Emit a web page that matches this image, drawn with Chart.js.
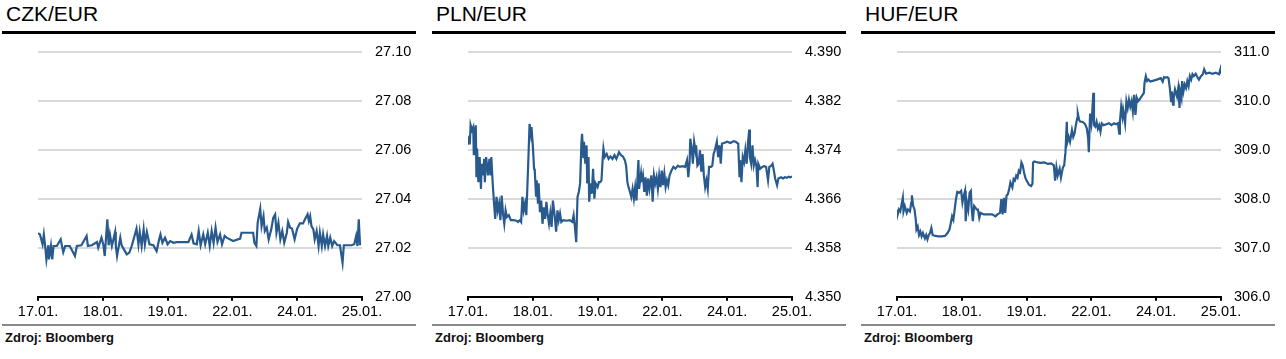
<!DOCTYPE html>
<html>
<head>
<meta charset="utf-8">
<script src="https://cdn.jsdelivr.net/npm/chart.js@4.4.1/dist/chart.umd.min.js"></script>
<style>
  html, body { margin:0; padding:0; background:#fff; }
  body { width:1286px; height:359px; position:relative; overflow:hidden; font-family:"Liberation Sans", Arial, sans-serif; }
  .panel { position:absolute; top:0; width:420px; height:359px; }
  .title { position:absolute; left:6px; top:4px; font-size:21px; line-height:20px; color:#000; white-space:nowrap; }
  .topline { position:absolute; left:1.5px; top:31px; width:414px; height:3px; background:#000; }
  .bottomline { position:absolute; left:1.5px; top:323.5px; width:414px; height:2px; background:#888; }
  .src { position:absolute; left:5px; top:330.5px; font-size:13px; line-height:13px; font-weight:bold; color:#111; white-space:nowrap; }
  canvas { position:absolute; left:0; top:30px; }
</style>
</head>
<body>
<script>
// ---- Data ----
const dayLabels = ['17.01.', '18.01.', '19.01.', '22.01.', '24.01.', '25.01.'];
const dayTicks = [0, 1, 2, 3, 4, 5];

const titles = ['CZK/EUR', 'PLN/EUR', 'HUF/EUR'];

const czkTicks = [27.00, 27.02, 27.04, 27.06, 27.08, 27.10];
const plnTicks = [4.350, 4.358, 4.366, 4.374, 4.382, 4.390];
const hufTicks = [306.0, 307.0, 308.0, 309.0, 310.0, 311.0];

const czkT = [0.00,0.03,0.07,0.09,0.11,0.13,0.16,0.17,0.20,0.22,0.24,0.29,0.35,0.37,0.39,0.42,0.49,0.57,0.60,0.67,0.75,0.77,0.83,0.91,0.93,0.98,1.01,1.03,1.07,1.09,1.11,1.14,1.19,1.20,1.22,1.27,1.29,1.37,1.41,1.45,1.52,1.55,1.57,1.60,1.63,1.65,1.68,1.72,1.78,1.83,1.87,1.89,1.92,1.96,2.00,2.04,2.09,2.14,2.24,2.32,2.37,2.40,
  2.45,2.48,2.51,2.55,2.58,2.62,2.65,2.68,2.71,2.74,2.77,2.81,2.84,2.88,2.91,2.94,3.01,3.12,3.14,3.32,3.34,3.37,3.39,3.43,3.45,3.48,3.50,3.53,3.56,3.60,3.63,3.66,3.68,3.71,3.74,3.77,3.80,3.84,3.86,3.89,3.92,3.96,4.00,4.04,4.09,4.12,4.16,4.18,4.20,4.22,4.25,4.27,4.30,4.33,4.35,4.38,4.40,4.43,4.46,4.48,4.51,4.54,4.57,4.62,4.66,4.70,4.72,4.84,4.88,4.91,4.93,4.95,4.97];
const czkV = [27.0259,27.0254,27.0214,27.0254,27.0207,27.0152,27.0210,27.0152,27.0207,27.0152,27.0207,27.0207,27.0234,27.0207,27.0182,27.0207,27.0207,27.0166,27.0207,27.0210,27.0248,27.0207,27.0210,27.0223,27.0200,27.0241,27.0210,27.0166,27.0316,27.0210,27.0254,27.0207,27.0264,27.0210,27.0166,27.0241,27.0210,27.0173,27.0180,27.0210,27.0278,27.0214,27.0264,27.0207,27.0275,27.0214,27.0264,27.0214,27.0210,27.0186,27.0234,27.0254,27.0220,27.0241,27.0214,27.0227,27.0220,27.0223,27.0223,27.0223,27.0254,27.0218,
  27.0214,27.0268,27.0210,27.0254,27.0214,27.0261,27.0207,27.0268,27.0220,27.0282,27.0223,27.0254,27.0214,27.0248,27.0241,27.0237,27.0227,27.0237,27.0261,27.0261,27.0220,27.0207,27.0302,27.0359,27.0288,27.0329,27.0268,27.0282,27.0234,27.0275,27.0322,27.0336,27.0261,27.0302,27.0234,27.0268,27.0220,27.0261,27.0305,27.0282,27.0278,27.0234,27.0278,27.0299,27.0299,27.0316,27.0336,27.0309,27.0329,27.0288,27.0275,27.0234,27.0268,27.0207,27.0261,27.0207,27.0254,27.0207,27.0248,27.0207,27.0241,27.0207,27.0227,27.0210,27.0210,27.0139,27.0210,27.0210,27.0214,27.0248,27.0207,27.0316,27.0210];

const plnT = [0.00,0.01,0.03,0.04,0.06,0.08,0.09,0.11,0.12,0.13,0.14,0.16,0.18,0.20,0.21,0.23,0.25,0.26,0.28,0.31,0.33,0.35,0.36,0.38,0.40,0.42,0.44,0.46,0.48,0.50,0.52,0.54,0.56,0.58,0.60,0.63,0.66,0.70,0.75,0.77,0.80,0.82,0.84,0.86,0.88,0.90,0.92,0.94,0.95,0.97,0.98,1.00,1.02,1.03,1.05,1.06,1.08,1.09,1.11,1.13,1.15,1.17,1.19,1.21,1.23,1.25,1.27,1.29,1.31,1.34,1.36,1.38,1.40,1.42,1.44,1.47,1.52,1.57,1.61,1.63,1.65,1.67,1.69,1.71,1.73,1.75,1.76,1.78,1.79,1.81,1.83,1.84,1.86,1.87,1.89,1.91,1.93,1.95,1.97,2.00,2.02,2.04,2.06,2.08,2.09,2.11,2.14,2.17,2.20,2.23,2.26,2.29,2.33,2.36,2.39,2.42,2.44,2.46,
  2.47,2.50,2.52,2.54,2.56,2.58,2.60,2.62,2.63,2.64,2.67,2.68,2.70,2.72,2.74,2.76,2.78,2.80,2.83,2.85,2.87,2.89,2.91,2.93,2.95,2.97,2.99,3.01,3.03,3.05,3.07,3.09,3.11,3.14,3.17,3.20,3.24,3.27,3.31,3.35,3.38,3.40,3.42,3.43,3.45,3.47,3.49,3.51,3.52,3.54,3.56,3.58,3.60,3.62,3.64,3.66,3.68,3.70,3.72,3.75,3.77,3.79,3.81,3.84,3.86,3.88,3.90,3.92,3.95,4.00,4.05,4.10,4.13,4.17,4.19,4.20,4.22,4.24,4.26,4.28,4.30,4.32,4.34,4.35,4.37,4.39,4.41,4.43,4.45,4.47,4.48,4.51,4.54,4.57,4.60,4.63,4.65,4.68,4.70,4.72,4.74,4.77,4.79,4.83,4.86,4.89,4.92,4.95,4.97,5.00];
const plnV = [4.3750,4.3758,4.3754,4.3780,4.3772,4.3777,4.3731,4.3772,4.3780,4.3695,4.3742,4.3687,4.3728,4.3676,4.3717,4.3698,4.3725,4.3687,4.3728,4.3698,4.3725,4.3698,4.3728,4.3687,4.3655,4.3627,4.3663,4.3641,4.3652,4.3625,4.3665,4.3636,4.3619,4.3641,4.3630,4.3633,4.3625,4.3625,4.3624,4.3622,4.3625,4.3622,4.3663,4.3641,4.3652,4.3633,4.3690,4.3750,4.3782,4.3766,4.3777,4.3747,4.3709,4.3706,4.3665,4.3690,4.3652,4.3685,4.3638,4.3657,4.3619,4.3646,4.3627,4.3655,4.3633,4.3619,4.3636,4.3614,4.3657,4.3630,4.3606,4.3641,4.3625,4.3636,4.3622,4.3625,4.3624,4.3625,4.3622,4.3633,4.3614,4.3589,4.3663,4.3671,4.3685,4.3750,4.3766,4.3728,4.3753,4.3717,4.3747,4.3685,4.3728,4.3655,4.3685,4.3668,4.3709,4.3660,4.3685,4.3679,4.3687,4.3687,4.3690,4.3728,4.3742,4.3728,4.3733,4.3725,4.3729,4.3725,4.3731,4.3725,4.3736,4.3731,4.3729,4.3723,4.3714,4.3687,
  4.3682,4.3671,4.3663,4.3676,4.3660,4.3679,4.3657,4.3704,4.3723,4.3676,4.3701,4.3687,4.3698,4.3671,4.3695,4.3665,4.3693,4.3676,4.3698,4.3655,4.3698,4.3685,4.3695,4.3676,4.3698,4.3679,4.3706,4.3682,4.3701,4.3679,4.3690,4.3682,4.3698,4.3706,4.3712,4.3709,4.3714,4.3712,4.3713,4.3712,4.3723,4.3695,4.3720,4.3758,4.3744,4.3717,4.3753,4.3739,4.3747,4.3714,4.3717,4.3739,4.3704,4.3733,4.3698,4.3679,4.3690,4.3676,4.3712,4.3712,4.3714,4.3733,4.3739,4.3753,4.3728,4.3747,4.3717,4.3750,4.3751,4.3753,4.3751,4.3754,4.3753,4.3750,4.3695,4.3723,4.3687,4.3728,4.3720,4.3739,4.3717,4.3750,4.3773,4.3728,4.3717,4.3747,4.3714,4.3723,4.3714,4.3679,4.3717,4.3709,4.3712,4.3713,4.3712,4.3690,4.3712,4.3714,4.3717,4.3706,4.3693,4.3682,4.3693,4.3695,4.3693,4.3695,4.3694,4.3696,4.3695,4.3696];

const hufT = [0.00,0.01,0.03,0.05,0.07,0.09,0.10,0.12,0.15,0.17,0.20,0.22,0.23,0.25,0.27,0.29,0.30,0.32,0.34,0.36,0.38,0.40,0.43,0.45,0.47,0.49,0.51,0.53,0.55,0.59,0.64,0.69,0.74,0.78,0.81,0.83,0.85,0.87,0.89,0.91,0.93,0.96,0.99,1.01,1.03,1.05,1.06,1.08,1.10,1.12,1.14,1.15,1.17,1.19,1.23,1.25,1.27,1.29,1.34,1.42,1.47,1.52,1.55,1.59,1.61,1.63,1.65,1.67,1.69,1.71,1.73,1.75,1.78,1.80,1.82,1.84,1.86,1.88,1.90,1.92,1.94,1.96,1.98,2.00,2.04,2.07,2.09,2.10,2.12,2.17,2.22,2.27,2.33,2.38,2.42,2.44,2.46,2.48,
  2.51,2.53,2.56,2.58,2.60,2.62,2.63,2.65,2.67,2.70,2.72,2.74,2.76,2.78,2.79,2.81,2.83,2.86,2.89,2.91,2.93,2.95,2.96,2.98,3.00,3.01,3.03,3.04,3.06,3.08,3.10,3.12,3.14,3.16,3.19,3.23,3.27,3.31,3.35,3.38,3.41,3.43,3.44,3.46,3.48,3.49,3.52,3.54,3.56,3.58,3.60,3.62,3.64,3.66,3.68,3.70,3.72,3.74,3.76,3.79,3.81,3.82,3.84,3.86,3.88,3.91,3.96,4.01,4.07,4.10,4.12,4.14,4.17,4.19,4.21,4.23,4.24,4.26,4.27,4.29,4.32,4.34,4.36,4.37,4.39,4.40,4.42,4.44,4.46,4.48,4.50,4.52,4.54,4.56,4.58,4.61,4.64,4.66,4.69,4.72,4.74,4.77,4.82,4.87,4.92,4.97,4.99,5.00];
const hufV = [307.78,307.68,307.78,307.74,307.88,308.02,307.74,307.85,307.71,307.78,307.74,307.92,308.07,307.85,307.78,307.57,307.37,307.43,307.26,307.33,307.23,307.30,307.19,307.26,307.17,307.26,307.30,307.40,307.26,307.24,307.23,307.23,307.24,307.30,307.37,307.50,307.64,307.57,307.78,307.99,308.14,308.12,308.16,307.92,308.06,308.16,307.54,307.92,307.78,308.12,308.16,307.85,307.54,307.85,307.78,307.78,307.61,307.71,307.68,307.68,307.68,307.64,307.68,307.71,307.99,307.68,308.02,307.71,308.06,308.09,308.19,308.33,308.23,308.40,308.37,308.47,308.43,308.57,308.54,308.74,308.68,308.54,308.43,308.37,308.28,308.26,308.30,308.74,308.76,308.74,308.73,308.74,308.71,308.72,308.68,308.37,308.64,308.47,
  308.61,308.43,308.64,308.68,308.95,309.57,309.16,309.26,309.16,309.40,309.26,309.33,309.50,309.64,309.74,309.61,309.57,309.57,309.54,309.50,309.43,309.23,308.95,309.74,309.54,309.71,310.16,309.50,309.47,309.57,309.43,309.50,309.37,309.54,309.50,309.52,309.54,309.50,309.54,309.52,309.54,309.33,309.57,309.88,309.68,309.81,309.54,309.99,309.85,310.02,309.88,309.99,309.78,310.12,309.71,310.06,309.99,310.02,310.06,310.12,310.16,310.37,310.50,310.40,310.43,310.39,310.41,310.43,310.46,310.39,310.48,310.47,310.48,310.46,310.26,309.99,310.19,309.92,310.06,310.23,310.09,310.26,309.85,310.19,310.06,310.40,310.19,310.33,310.26,310.40,310.30,310.50,310.43,310.54,310.50,310.55,310.47,310.43,310.50,310.54,310.64,310.55,310.57,310.55,310.57,310.54,310.64,310.55];

// ---- Rendering ----
Chart.defaults.font.family = '"Liberation Sans", Arial, sans-serif';
Chart.defaults.color = '#000';

const panels = [
  { left: 0,   title: titles[0], t: czkT, v: czkV, ticks: czkTicks, dec: 2 },
  { left: 430, title: titles[1], t: plnT, v: plnV, ticks: plnTicks, dec: 3 },
  { left: 859, title: titles[2], t: hufT, v: hufV, ticks: hufTicks, dec: 1 }
];

panels.forEach(p => {
  const div = document.createElement('div');
  div.className = 'panel';
  div.style.left = p.left + 'px';
  div.innerHTML = '<div class="title"></div><div class="topline"></div><div class="bottomline"></div><div class="src">Zdroj: Bloomberg</div>';
  div.querySelector('.title').textContent = p.title;
  const cv = document.createElement('canvas');
  cv.width = 420; cv.height = 300;
  div.appendChild(cv);
  document.body.appendChild(div);

  const pts = p.t.map((x, i) => ({ x: x, y: p.v[i] }));
  new Chart(cv.getContext('2d'), {
    type: 'line',
    data: { datasets: [{ data: pts, borderColor: '#285a8e', borderWidth: 2.2, pointRadius: 0, tension: 0, fill: false }] },
    options: {
      responsive: false, animation: false, devicePixelRatio: 1,
      layout: { padding: { left: 38, top: 0, right: 0, bottom: 0 } },
      plugins: { legend: { display: false }, tooltip: { enabled: false }, title: { display: false } },
      scales: {
        x: {
          type: 'linear', min: 0, max: 5,
          afterBuildTicks: s => { s.ticks = dayTicks.map(v => ({ value: v })); },
          afterFit: s => { s.height = 33.3; },
          ticks: { autoSkip: false, maxRotation: 0, padding: 3, font: { size: 14.5 }, color: '#000', callback: v => dayLabels[v] },
          grid: { drawOnChartArea: false, drawTicks: true, tickLength: 4, color: '#000', lineWidth: 2 },
          border: { display: true, color: '#000', width: 2 }
        },
        y: {
          position: 'right', min: p.ticks[0], max: p.ticks[p.ticks.length - 1],
          afterBuildTicks: s => { s.ticks = p.ticks.map(v => ({ value: v })); },
          afterFit: s => { s.width = 58; },
          ticks: { padding: 13, font: { size: 14.5 }, color: '#000', callback: v => Number(v).toFixed(p.dec) },
          grid: { color: '#d9d9d9', lineWidth: 2, drawTicks: false },
          border: { display: false }
        }
      }
    }
  });
});
</script>
</body>
</html>
